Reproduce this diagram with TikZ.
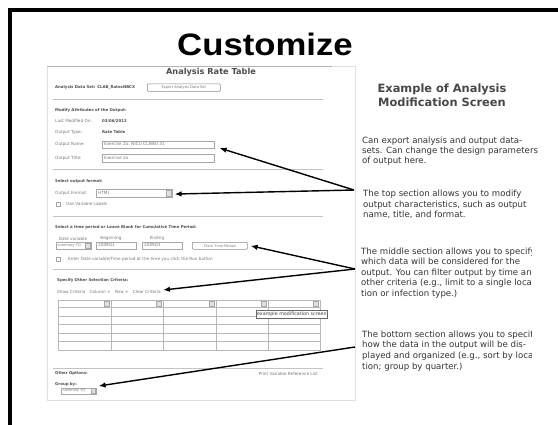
\documentclass[tikz,border=0pt]{standalone}
\usepackage{fontspec}
\setmainfont{Liberation Sans}
\newfontfamily\dvs{DejaVu Sans}
\usetikzlibrary{arrows.meta}
\definecolor{ink}{HTML}{333333}
\definecolor{formtxt}{HTML}{777777}
\definecolor{formbold}{HTML}{4E4E4E}
\definecolor{rulec}{HTML}{C4C4C4}
\definecolor{boxline}{HTML}{A8A8A8}
\tikzset{
  ft/.style={font=\dvs\fontsize{4.2}{5}\selectfont, text=formtxt, inner sep=0pt, anchor=west},
  fb/.style={font=\dvs\bfseries\fontsize{3.9}{5}\selectfont, text=formbold, inner sep=0pt, anchor=west},
  hrule/.style={draw=rulec, line width=0.9pt},
  fboxn/.style={draw=boxline, line width=0.6pt, fill=white, inner sep=0pt, anchor=north west},
  ddarrow/.style={draw=boxline, line width=0.4pt, fill=black!12},
  gridl/.style={draw=black!28, line width=0.8pt},
  body/.style={font=\dvs\fontsize{8.6}{10}\selectfont, text=ink, inner sep=0pt, anchor=base west},
  head/.style={font=\dvs\bfseries\fontsize{11.4}{14}\selectfont, text=ink!90, inner sep=0pt, anchor=base},
  arr/.style={draw=black, line width=1.4pt, -{Latex[length=7pt,width=5.5pt]}},
}
\begin{document}
\begin{tikzpicture}[x=1pt,y=-1pt]
\useasboundingbox (0,0) rectangle (558,424);
\fill[white] (0,0) rectangle (558,424);
% slide frame
\draw[line width=4pt] (10,10) rectangle (620,480);
% title
\node[font=\bfseries\fontsize{31}{31}\selectfont, anchor=base, inner sep=0pt, xscale=1.12] (title) at (265,55) {Customize};

% ---------- screenshot ----------
\draw[draw=black!12, line width=0.8pt] (47,66) rectangle (355,400);
\draw[draw=black!30, line width=0.9pt] (47,66) -- (332,66);
\node[font=\dvs\bfseries\fontsize{8.2}{9}\selectfont, text=formbold, anchor=base, inner sep=0pt] (frmtitle) at (211,74.5) {Analysis Rate Table};

\node[fb] (dset) at (55,87) {Analysis Data Set: CLAB\_RatesNBCX};
\node[fboxn, minimum width=73pt, minimum height=7.5pt, rounded corners=1pt, draw=black!45] (export) at (147,83.5) {};
\node[ft, font=\dvs\fontsize{3.6}{4}\selectfont, anchor=center] (exportt) at (export.center) {Export Analysis Data Set};
\draw[hrule] (53,99) -- (323,99);

\node[fb] (modhd) at (55,110) {Modify Attributes of the Output:};
\node[ft] (lmod) at (55,121) {Last Modified On:};
\node[fb] (lmodv) at (102,121) {03/06/2012};
\node[ft] (otype) at (55,132) {Output Type:};
\node[fb] (otypev) at (102,132) {Rate Table};
\node[ft] (onamel) at (55,144) {Output Name:};
\node[fboxn, minimum width=112pt, minimum height=7.5pt] (oname) at (102,140.5) {};
\node[ft] (onamev) at (104,144.2) {Exercise 2a: NICU CLABSI 31};
\node[ft] (otitl) at (55,158) {Output Title:};
\node[fboxn, minimum width=112pt, minimum height=7.5pt] (otit) at (102,154) {};
\node[ft] (otitv) at (104,157.8) {Exercise 2a};
\draw[hrule] (53,169) -- (323,169);

\node[fb] (fmthd) at (55,181) {Select output format:};
\node[ft] (fmtl) at (55,193) {Output Format:};
\node[fboxn, minimum width=76pt, minimum height=7.5pt] (fmt) at (96,189) {};
\node[ft] (fmtv) at (98,192.8) {HTML};
\draw[ddarrow] (166,190) rectangle (171.3,195.7);
\draw[draw=boxline, fill=white, line width=0.5pt] (56,202) rectangle (60.5,206.5);
\node[ft] (usevar) at (66,204.3) {Use Variable Labels};
\draw[hrule] (53,216) -- (323,216);

\node[fb] (timehd) at (55,227) {Select a time period or Leave Blank for Cumulative Time Period:};
\node[ft, anchor=center] (dvl) at (73,238.5) {Date variable};
\node[ft, anchor=center] (begl) at (111,238.5) {Beginning};
\node[ft, anchor=center] (endl) at (157,238.5) {Ending};
\node[fboxn, minimum width=35pt, minimum height=7pt] (dv) at (56,242) {};
\node[ft, font=\dvs\fontsize{3.6}{4}\selectfont] (dvv) at (57.5,245.5) {summary YQ};
\draw[ddarrow] (85.5,243) rectangle (90.3,248.2);
\node[fboxn, minimum width=40pt, minimum height=7pt] (beg) at (96,242) {};
\node[ft] (begv) at (98,245.5) {2009Q1};
\node[fboxn, minimum width=40pt, minimum height=7pt] (endb) at (142,242) {};
\node[ft] (endv) at (144,245.5) {2009Q1};
\node[fboxn, minimum width=55pt, minimum height=7pt, rounded corners=1pt, draw=black!45] (clrtp) at (192,242) {};
\node[ft, font=\dvs\fontsize{3.6}{4}\selectfont, anchor=center] (clrtpt) at (clrtp.center) {Clear Time Period};
\draw[draw=boxline, fill=white, line width=0.5pt] (56,257) rectangle (60.5,261.5);
\node[ft] (enter) at (68,259.3) {Enter Date variable/Time period at the time you click the Run button};
\draw[hrule] (53,269) -- (323,269);

\node[fb] (crithd) at (57,280) {Specify Other Selection Criteria:};
\node[ft] (links) at (57,292) {Show Criteria\hspace{3pt} Column +\hspace{3pt} Row +\hspace{3pt} Clear Criteria};

% criteria grid
\foreach \xx in {58,111,163,216,268,320} \draw[gridl] (\xx,300) -- (\xx,350.5);
\foreach \yy in {300,307.5,316,324.5,333,341.5,350.5} \draw[gridl] (58,\yy) -- (320,\yy);
\foreach \xx in {111,163,216,268,320} \draw[ddarrow] (\xx-6.5,301.3) rectangle (\xx-1.5,306.2);
\node[draw=black!60, line width=0.6pt, fill=white, inner sep=0.8pt, font=\dvs\fontsize{4.8}{5}\selectfont, text=black!75, anchor=north west, minimum height=8pt] (tip) at (256,310) {example modification screen};

\draw[hrule] (53,368) -- (323,368);
\node[fb] (othhd) at (55,373.5) {Other Options:};
\node[ft, anchor=east] (prvar) at (318,373.5) {Print Variable Reference List};
\node[fb] (grphd) at (55,384) {Group by:};
\node[fboxn, minimum width=35pt, minimum height=5.5pt] (grp) at (61,388) {};
\node[ft, font=\dvs\fontsize{3.4}{4}\selectfont] (grpv) at (63,390.8) {summary YQ};
\draw[ddarrow] (91,388.5) rectangle (95.5,393);

% ---------- right side text ----------
\node[head] (hd1) at (442,92) {Example of Analysis};
\node[head] (hd2) at (442,106) {Modification Screen};

\node[body] (b1a) at (362,143.7) {Can export analysis and output data-};
\node[body] (b1b) at (362,153.3) {sets. Can change the design parameters};
\node[body] (b1c) at (362,163) {of output here.};

\node[body] (b2a) at (363,196.7) {The top section allows you to modify};
\node[body] (b2b) at (363,207) {output characteristics, such as output};
\node[body] (b2c) at (363,217.3) {name, title, and format.};

\begin{scope}
\clip (356,230) rectangle (531,380);
\node[body] (b3a) at (361,254) {The middle section allows you to specify};
\node[body] (b3b) at (361,264.7) {which data will be considered for the};
\node[body] (b3c) at (361,275.2) {output. You can filter output by time and};
\node[body] (b3d) at (361,285.8) {other criteria (e.g., limit to a single loca-};
\node[body] (b3e) at (361,296.5) {tion or infection type.)};

\node[body] (b4a) at (362,337.3) {The bottom section allows you to specify};
\node[body] (b4b) at (362,347.8) {how the data in the output will be dis-};
\node[body] (b4c) at (362,358.4) {played and organized (e.g., sort by loca-};
\node[body] (b4d) at (362,369) {tion; group by quarter.)};
\end{scope}

% ---------- connectors ----------
\coordinate (s1) at (354,190);
\coordinate (s2) at (355,269);
\coordinate (s3) at (355,347);
\draw[arr] (s1) -- ([xshift=5pt,yshift=-3.5pt]oname.east);
\draw[arr] (s1) -- ([xshift=2pt,yshift=-1pt]fmt.east);
\draw[arr] (s2) -- ([xshift=3pt]clrtp.east);
\draw[arr] (s2) -- ([xshift=2pt,yshift=2pt]links.east);
\draw[arr] (s3) -- ([xshift=2pt,yshift=2pt]grp.north east);
\end{tikzpicture}
\end{document}
